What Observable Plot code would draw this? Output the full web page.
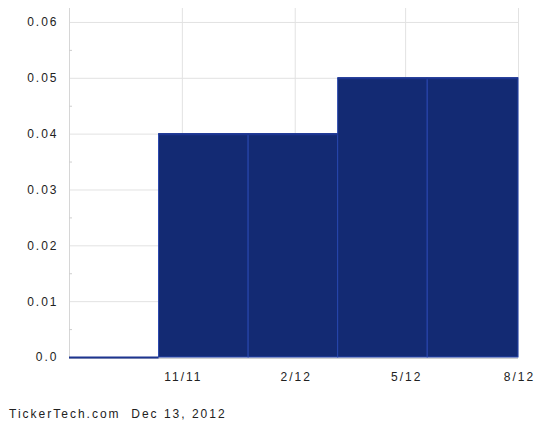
<!DOCTYPE html>
<html>
<head>
<meta charset="utf-8">
<script src="https://cdn.jsdelivr.net/npm/d3@7"></script>
<script src="https://cdn.jsdelivr.net/npm/@observablehq/plot@0.6"></script>
<style>
  body { margin: 0; background: #fff; }
  #caption { font-family: "Liberation Sans", Arial, sans-serif; font-size: 12px; letter-spacing: 2px; color: #222; margin: 9px 0 0 9px; line-height: 14px; }
</style>
</head>
<body>
<div id="chart"></div>
<div id="caption">TickerTech.com&nbsp; Dec 13, 2012</div>
<script>
// Dividend periods (bar start / end) and amounts
const periodStarts = ["2011-08-01", "2011-10-13", "2011-12-25", "2012-03-07", "2012-05-19"];
const periodEnds   = ["2011-10-13", "2011-12-25", "2012-03-07", "2012-05-19", "2012-08-01"];
const dividends    = [0, 0.04, 0.04, 0.05, 0.05];

// Axis ticks
const xTickDates  = ["2011-11-01", "2012-02-01", "2012-05-01", "2012-08-01"];
const xTickLabels = ["11/11", "2/12", "5/12", "8/12"];
const yTicks      = [0, 0.01, 0.02, 0.03, 0.04, 0.05, 0.06];
const yTickLabels = ["0.0", "0.01", "0.02", "0.03", "0.04", "0.05", "0.06"];
const yMinorTicks = [0.005, 0.015, 0.025, 0.035, 0.045, 0.055];
const xDomain     = ["2011-08-01", "2012-08-01"];

const bars = dividends.map((v, i) => ({start: new Date(periodStarts[i]), end: new Date(periodEnds[i]), v}));
const xTicks = xTickDates.map((d, i) => ({date: new Date(d), label: xTickLabels[i]}));
const x0 = new Date(xDomain[0]);

const chart = Plot.plot({
  width: 536,
  height: 398,
  marginLeft: 69,
  marginRight: 18,
  marginTop: 8,
  marginBottom: 41,
  style: {fontFamily: "Liberation Sans, Arial, sans-serif", fontSize: "12px", letterSpacing: "2px", color: "#222", background: "#fff"},
  x: {type: "utc", domain: xDomain.map(d => new Date(d)), axis: null},
  y: {domain: [0, 0.0625], axis: null},
  marks: [
    Plot.gridY(yTicks, {stroke: "#e2e2e2", strokeOpacity: 1}),
    Plot.gridX(xTicks.map(d => d.date), {stroke: "#e2e2e2", strokeOpacity: 1}),
    Plot.ruleX([x0], {stroke: "#d6d6d6"}),
    Plot.axisY(yMinorTicks, {tickSize: -3, tickFormat: () => "", label: null, stroke: "#cfcfcf"}),
    Plot.ruleY([0], {stroke: "#cfcfcf", dy: 1}),
    Plot.rect(bars, {x1: "start", x2: "end", y1: 0, y2: "v", fill: "#132a73", stroke: "#2745ad", strokeWidth: 1}),
    Plot.ruleY(bars, {y: "v", x1: "start", x2: "end", stroke: "#1d3590", strokeWidth: 2}),
    Plot.text(yTicks, {x: x0, y: d => d, text: (d, i) => yTickLabels[i], textAnchor: "end", dx: -11, fill: "#222"}),
    Plot.text(xTicks, {x: "date", text: "label", frameAnchor: "bottom", dy: 23, dx: 1, fill: "#222"})
  ]
});
document.getElementById("chart").appendChild(chart);
</script>
</body>
</html>
